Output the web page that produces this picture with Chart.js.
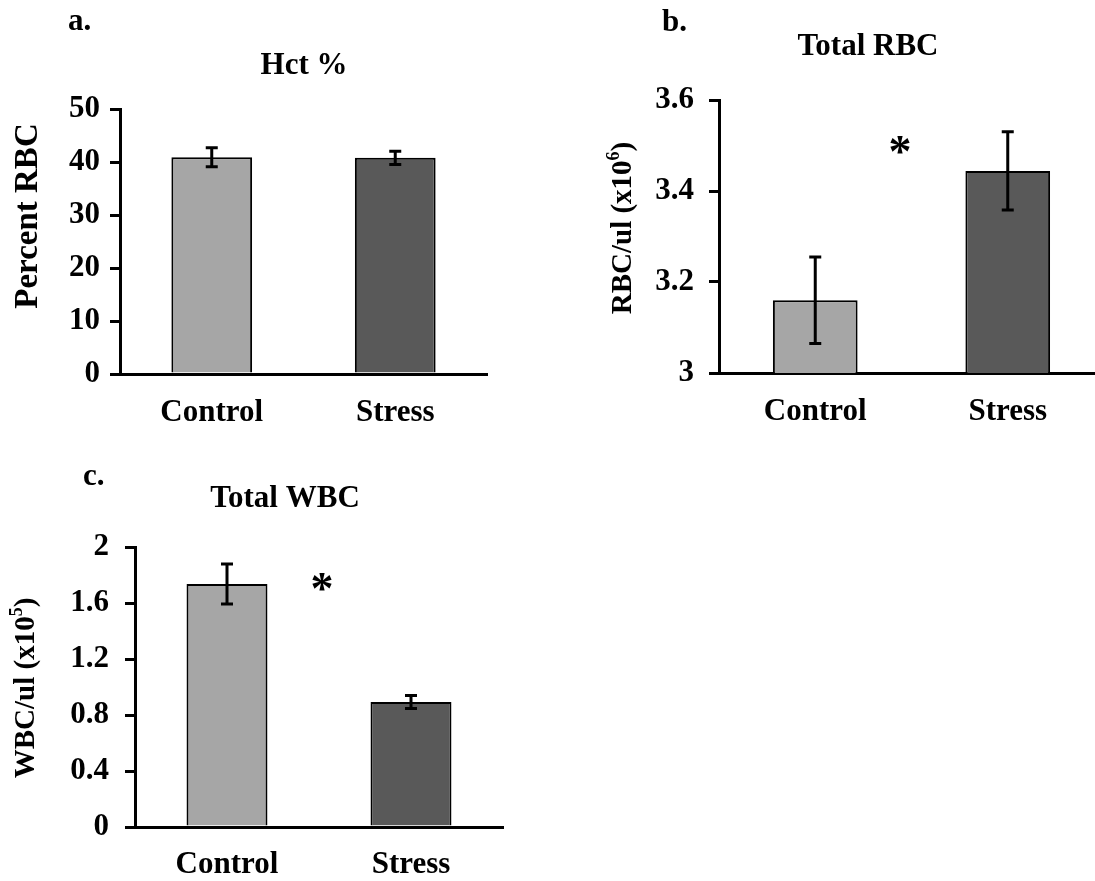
<!DOCTYPE html>
<html>
<head>
<meta charset="utf-8">
<script src="https://cdn.jsdelivr.net/npm/chart.js@4.4.0/dist/chart.umd.min.js"></script>
<style>
  html, body { margin: 0; padding: 0; background: #fff; overflow: hidden; }
  body { width: 1095px; height: 881px; position: relative; }
  canvas { position: absolute; }
</style>
</head>
<body>
<canvas id="hctChart" width="540" height="440" style="left:0;top:0"></canvas>
<canvas id="rbcChart" width="600" height="440" style="left:540px;top:0"></canvas>
<canvas id="wbcChart" width="540" height="441" style="left:0;top:440px"></canvas>
<script>
const categories = ["Control", "Stress"];
const barColors = ["#a6a6a6", "#595959"];

// a. Hct %
const hctMean = [40.9, 40.8];
const hctErr = [1.8, 1.25];
const hctTicks = [0, 10, 20, 30, 40, 50];

// b. Total RBC (x10^6 per ul)
const rbcMean = [3.16, 3.444];
const rbcErr = [0.095, 0.086];
const rbcTicks = [3, 3.2, 3.4, 3.6];

// c. Total WBC (x10^5 per ul)
const wbcMean = [1.736, 0.893];
const wbcErr = [0.143, 0.046];
const wbcTicks = [0, 0.4, 0.8, 1.2, 1.6, 2];

const serif = '"Liberation Serif", "Times New Roman", serif';
Chart.defaults.font.family = serif;
Chart.defaults.color = "#000";

// draws the whiskers on top of each bar
const errorBars = {
  id: "errorBars",
  afterDatasetsDraw(chart, args, opts) {
    const ctx = chart.ctx;
    const y = chart.scales.y;
    const means = chart.data.datasets[0].data;
    ctx.save();
    ctx.strokeStyle = "#000";
    ctx.lineWidth = 3;
    chart.getDatasetMeta(0).data.forEach((bar, i) => {
      const hi = y.getPixelForValue(means[i] + opts.err[i]);
      const lo = y.getPixelForValue(means[i] - opts.err[i]);
      ctx.beginPath();
      ctx.moveTo(bar.x, hi); ctx.lineTo(bar.x, lo);
      ctx.moveTo(bar.x - 6, hi); ctx.lineTo(bar.x + 6, hi);
      ctx.moveTo(bar.x - 6, lo); ctx.lineTo(bar.x + 6, lo);
      ctx.stroke();
    });
    ctx.restore();
  }
};

// panel letter, title, rotated y title and the significance star
const panelText = {
  id: "panelText",
  afterDraw(chart, args, o) {
    const ctx = chart.ctx;
    ctx.save();
    ctx.fillStyle = "#000";
    ctx.textBaseline = "alphabetic";

    ctx.font = `bold 31px ${serif}`;
    ctx.textAlign = "left";
    ctx.fillText(o.letter, o.letterX, o.letterY);

    ctx.textAlign = "center";
    ctx.fillText(o.title, o.titleX, o.titleY);

    if (o.star) {
      ctx.font = `bold 46px ${serif}`;
      const m = ctx.measureText("*");
      // centre the glyph box on the star point
      const base = o.starY + (m.actualBoundingBoxAscent - m.actualBoundingBoxDescent) / 2;
      ctx.fillText("*", o.starX, base);
    }

    // y title, with optional superscript
    ctx.save();
    ctx.translate(o.yTitleX, o.yTitleY);
    ctx.rotate(-Math.PI / 2);
    ctx.textAlign = "left";
    ctx.textBaseline = "middle";
    const main = `bold ${o.yTitleSize}px ${serif}`;
    const sup = `bold ${Math.round(o.yTitleSize * 0.62)}px ${serif}`;
    const parts = o.yTitle.map((t, i) => ({ t, sup: i === 1 }));
    let total = 0;
    parts.forEach(p => { ctx.font = p.sup ? sup : main; p.w = ctx.measureText(p.t).width; total += p.w; });
    let x = -total / 2;
    parts.forEach(p => {
      ctx.font = p.sup ? sup : main;
      ctx.fillText(p.t, x, p.sup ? -o.yTitleSize * 0.32 : 0);
      x += p.w;
    });
    ctx.restore();

    ctx.restore();
  }
};

function makeChart(id, mean, err, ticks, box, text) {
  return new Chart(document.getElementById(id), {
    type: "bar",
    data: {
      labels: categories,
      datasets: [{
        data: mean,
        backgroundColor: barColors,
        borderColor: "#000",
        borderWidth: 2,
        barPercentage: 0.44,
        categoryPercentage: 1
      }]
    },
    plugins: [errorBars, panelText],
    options: {
      responsive: false,
      animation: false,
      layout: { padding: { top: box.top, right: box.right, left: 0, bottom: 0 } },
      plugins: {
        legend: { display: false },
        tooltip: { enabled: false },
        errorBars: { err },
        panelText: text
      },
      scales: {
        x: {
          grid: { display: false, drawTicks: false },
          border: { display: true, color: "#000", width: 3 },
          ticks: { font: { size: 31, weight: "bold" }, color: "#000", padding: box.xPad },
          afterFit: s => { s.height = box.xHeight; }
        },
        y: {
          min: ticks[0],
          max: ticks[ticks.length - 1],
          afterBuildTicks: s => { s.ticks = ticks.map(v => ({ value: v })); },
          grid: { drawOnChartArea: false, drawTicks: true, tickLength: 10, color: "#000", lineWidth: 3 },
          border: { display: true, color: "#000", width: 3 },
          ticks: {
            font: { size: 31, weight: "bold" },
            color: "#000",
            padding: box.yPad,
            callback: v => String(Math.round(v * 10) / 10)
          },
          afterFit: s => { s.width = box.yWidth; }
        }
      }
    }
  });
}

makeChart("hctChart", hctMean, hctErr, hctTicks,
  { top: 109, right: 53, yWidth: 120, xHeight: 66, xPad: 20, yPad: 10 },
  { letter: "a.", letterX: 68, letterY: 30, title: "Hct %", titleX: 304, titleY: 74,
    yTitle: ["Percent RBC"], yTitleSize: 33, yTitleX: 28, yTitleY: 216, star: false });

makeChart("rbcChart", rbcMean, rbcErr, rbcTicks,
  { top: 100, right: 36, yWidth: 179, xHeight: 67, xPad: 20, yPad: 15 },
  { letter: "b.", letterX: 122, letterY: 31, title: "Total RBC", titleX: 328, titleY: 55,
    yTitle: ["RBC/ul (x10", "6", ")"], yTitleSize: 29, yTitleX: 84, yTitleY: 228,
    star: true, starX: 360, starY: 145 });

makeChart("wbcChart", wbcMean, wbcErr, wbcTicks,
  { top: 107, right: 37, yWidth: 135, xHeight: 54, xPad: 19, yPad: 16 },
  { letter: "c.", letterX: 83, letterY: 45, title: "Total WBC", titleX: 285, titleY: 67,
    yTitle: ["WBC/ul (x10", "5", ")"], yTitleSize: 29, yTitleX: 27, yTitleY: 248,
    star: true, starX: 322, starY: 142 });
</script>
</body>
</html>
